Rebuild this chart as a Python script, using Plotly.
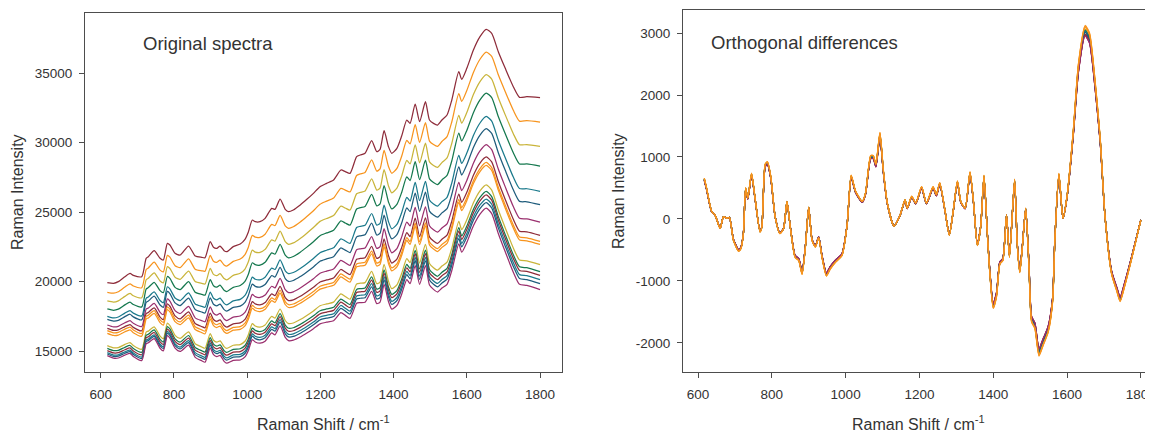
import numpy as np
import plotly.graph_objects as go

# The page puts the figure 8 px in from the top-left corner (default body margin)
PAGE_W, PAGE_H, PAD = 1153, 432, 8
FW, FH = PAGE_W - PAD, PAGE_H - PAD

# ---- Left panel: highest ("top") original spectrum ----
TOP_WN = [618, 635, 648, 666, 680, 689, 712, 724, 730, 746, 762, 771, 782, 789, 803, 817,
          840, 858, 876, 885, 899, 908, 917, 926, 937, 944, 962, 981, 994, 1003, 1014, 1022,
          1035, 1049, 1067, 1076, 1090, 1104, 1113, 1126, 1145, 1163, 1181, 1199, 1217, 1236,
          1256, 1268, 1281, 1299, 1309, 1322, 1340, 1354, 1363, 1374, 1386, 1395, 1409, 1422,
          1436, 1445, 1459, 1471, 1487, 1498, 1509, 1520, 1532, 1546, 1559, 1578, 1586, 1600,
          1618, 1636, 1653, 1668, 1686, 1705, 1727, 1744, 1764, 1800]
TOP_INT = [19916, 19868, 19988, 20348, 20587, 20443, 20348, 21666, 21786, 22218, 21666, 21547,
           22745, 22625, 22026, 21906, 22553, 21834, 21738, 21714, 22865, 22458, 22386, 22553,
           22218, 22146, 22506, 22697, 23033, 23550, 24424, 24304, 24304, 24544, 25263, 25191,
           25935, 25191, 25024, 25144, 25503, 25911, 26343, 26822, 27062, 27302, 28021, 27901,
           27781, 28981, 29100, 29220, 30131, 29340, 29508, 30851, 29700, 29220, 29580, 30467,
           31618, 31378, 32769, 31498, 32937, 31618, 31378, 31258, 31618, 31978, 33057, 35096,
           34544, 35335, 36654, 37613, 38140, 37853, 36534, 35335, 34016, 33249, 33297, 33225]

# Baseline offsets of each spectrum relative to the top one, at anchor wavenumbers
ANCHOR_WN = [620, 1000, 1400, 1800]
OFFSETS = [
    [0, 0, 0, 0],
    [-696, -1098, -1437, -1755],
    [-1317, -2148, -2847, -3503],
    [-1893, -3043, -4012, -4920],
    [-2424, -4064, -5446, -6741],
    [-2640, -4562, -6180, -7697],
    [-3045, -5289, -7178, -8949],
    [-3286, -5802, -7920, -9906],
    [-3453, -6069, -8272, -10337],
    [-3647, -6271, -8481, -10553],
    [-4532, -7375, -9769, -12014],
    [-4724, -7685, -10179, -12517],
    [-4892, -7891, -10416, -12784],
    [-5036, -8098, -10676, -13093],
    [-5130, -8265, -10906, -13381],
    [-5252, -8505, -11244, -13812],
]

DR, OR, OL, GR, TE, DT, MG = "#8E2C3A", "#F7941E", "#C9B43A", "#15784E", "#1B7A8C", "#1F5C7C", "#9A2F6E"
SERIES_COLORS = [DR, OR, OL, GR, TE, DT, MG, DR, OR, OR, OL, GR, DR, TE, DT, MG]

# ---- Right panel: orthogonal differences ----
DIFF_WN = [617, 623, 637, 646, 660, 669, 678, 685, 696, 710, 716, 723, 729, 735, 745, 754, 768,
           773, 782, 788, 797, 809, 822, 832, 841, 850, 863, 873, 882, 891, 900, 909, 918, 927,
           936, 948, 958, 972, 990, 1004, 1015, 1027, 1045, 1054, 1068, 1075, 1082, 1093, 1102,
           1113, 1131, 1147, 1161, 1167, 1179, 1190, 1206, 1219, 1237, 1246, 1255, 1269, 1281,
           1292, 1303, 1312, 1324, 1337, 1346, 1357, 1366, 1375, 1384, 1391, 1400, 1409, 1418,
           1426, 1436, 1444, 1458, 1465, 1472, 1479, 1488, 1497, 1504, 1513, 1524, 1535, 1549,
           1561, 1567, 1578, 1589, 1600, 1617, 1631, 1649, 1661, 1676, 1690, 1703, 1721, 1735,
           1744, 1755, 1776, 1800]
DIFF_INT = [645, 495, 118, 65, -150, 38, 11, 27, -339, -511, -473, -231, 495, 333, 726, 360, -204,
            -124, 871, 909, 683, 38, -231, -150, 280, -124, -608, -661, -876, -446, 188, -339,
            -446, -296, -608, -903, -796, -688, -581, -97, 694, 441, 280, 414, 1006, 1006, 871,
            1371, 790, 253, -113, 50, 307, 172, 360, 253, 511, 253, 511, 387, 576, 145, -258,
            145, 602, 280, 172, 747, 307, -420, -124, 694, -231, -876, -1414, -1226, -715, -661,
            65, -608, 629, -392, -850, -446, 172, -769, -1629, -1737, -2167, -2005, -1790, -1307,
            -339, 720, 11, 360, 1400, 2457, 3060, 2941, 2189, 1274, 38, -876, -1145, -1307,
            -1091, -608, -16]
DIFF_SCALE = [0.97, 1.02, 1.0, 0.995, 0.99, 0.985, 0.965, 0.975, 1.015, 1.01, 1.0, 0.995,
              0.97, 0.99, 0.985, 0.965]
RIGHT_DRAW_ORDER = [0, 2, 3, 4, 5, 6, 7, 10, 11, 12, 13, 14, 15, 1, 8, 9]

X_TICKS = [600, 800, 1000, 1200, 1400, 1600, 1800]
Y1_TICKS = [15000, 20000, 25000, 30000, 35000]
Y2_TICKS = [-2000, -1000, 0, 1000, 2000, 3000]


def px_x(x):
    return (x - PAD) / FW


def px_y(y):
    return 1 - (y - PAD) / FH


fig = go.Figure()
top_wn = np.array(TOP_WN, dtype=float)
top_int = np.array(TOP_INT, dtype=float)
for i, off in enumerate(OFFSETS):
    y = top_int + np.interp(top_wn, ANCHOR_WN, off)
    fig.add_trace(go.Scatter(x=top_wn, y=y, mode="lines", xaxis="x", yaxis="y",
                             line=dict(color=SERIES_COLORS[i], width=1.25, shape="spline", smoothing=0.6),
                             showlegend=False, hoverinfo="skip"))

d_wn = np.array(DIFF_WN, dtype=float)
d_int = np.array(DIFF_INT, dtype=float)
for i in RIGHT_DRAW_ORDER:
    fig.add_trace(go.Scatter(x=d_wn, y=d_int * DIFF_SCALE[i], mode="lines", xaxis="x2", yaxis="y2",
                             line=dict(color=SERIES_COLORS[i], width=1.25, shape="spline", smoothing=0.6),
                             showlegend=False, hoverinfo="skip"))

FONT = "Liberation Sans, Arial, Helvetica, sans-serif"
TXT = "#333333"
FRAME = "#4d4d4d"


def ax(**kw):
    d = dict(showgrid=False, zeroline=False, showline=True, linecolor=FRAME, linewidth=1,
             ticks="outside", ticklen=5, tickcolor=FRAME, tickwidth=1, automargin=False,
             ticklabeloverflow="allow",
             tickfont=dict(family=FONT, size=13.5, color=TXT))
    d.update(kw)
    return d


fig.update_layout(
    width=FW, height=FH, margin=dict(l=0, r=0, t=0, b=0, autoexpand=False),
    paper_bgcolor="white", plot_bgcolor="white",
    xaxis=ax(domain=[px_x(85), px_x(562)], range=[557, 1860], tickvals=X_TICKS, mirror=True,
             anchor="y", ticklabelstandoff=5),
    yaxis=ax(domain=[px_y(372), px_y(13)], range=[13489, 39317], tickvals=Y1_TICKS,
             ticktext=[str(v) for v in Y1_TICKS], mirror=True, anchor="x", ticklabelstandoff=4),
    xaxis2=ax(domain=[px_x(683), 1.0], range=[559.3, 1833], tickvals=X_TICKS, mirror=True,
              anchor="y2", ticklabelstandoff=5),
    yaxis2=ax(domain=[px_y(372), px_y(10)], range=[-2468, 3371], tickvals=Y2_TICKS,
              ticktext=[str(v) for v in Y2_TICKS], anchor="x2", ticklabelstandoff=4),
)


def ann(text, x, y, size, xanchor="center", angle=0):
    fig.add_annotation(text=text, x=px_x(x), y=px_y(y), xref="paper", yref="paper",
                       xanchor=xanchor, yanchor="middle", showarrow=False, textangle=angle,
                       font=dict(family=FONT, size=size, color=TXT))


ann("Original spectra", 141, 44, 18.5, xanchor="left")
ann("Orthogonal differences", 709, 42, 18.5, xanchor="left")
ann("Raman Intensity", 17, 192, 16, angle=-90)
ann("Raman Intensity", 618, 191, 16, angle=-90)
ann("Raman Shift / cm<sup>-1</sup>", 323, 423, 16)
ann("Raman Shift / cm<sup>-1</sup>", 918, 423, 16)

fig.write_html("out.html")
